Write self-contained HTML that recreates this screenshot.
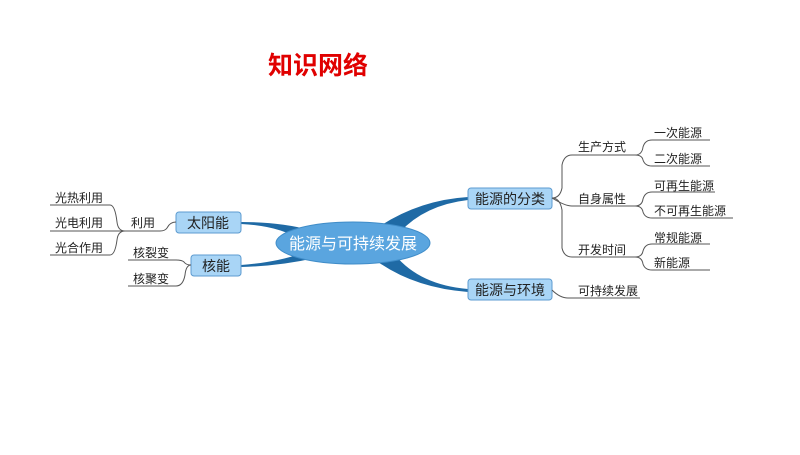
<!DOCTYPE html>
<html><head><meta charset="utf-8"><style>
body{margin:0;background:#fff;}
svg text{font-family:"Liberation Sans","Noto Sans CJK SC",sans-serif;}
</style></head><body>
<svg width="800" height="450" viewBox="0 0 800 450" xmlns="http://www.w3.org/2000/svg">
<rect width="800" height="450" fill="#fff"/>
<text x="318" y="74" font-size="25" font-weight="bold" fill="#e00000" text-anchor="middle">知识网络</text>

<!-- tapered branches -->
<g fill="#1f6aa5">
<path d="M380 226 Q420 200 468 197 L468 200 Q425 205 400 232 Z"/>
<path d="M395 255 Q420 285 468 289 L468 292 Q415 288 378 262 Z"/>
<path d="M310 230 Q280 222 241 222 L241 224 Q280 226 300 240 Z"/>
<path d="M305 252 Q280 262 241 265 L241 267 Q280 266 315 258 Z"/>
</g>

<ellipse cx="353" cy="243" rx="77" ry="21" fill="#5aa5df" stroke="#3f8cc8" stroke-width="1"/>
<text x="353" y="249" font-size="16" fill="#fff" text-anchor="middle">能源与可持续发展</text>

<g fill="#a9d5f6" stroke="#5d9bd0" stroke-width="1">
<rect x="468" y="188" width="84" height="21" rx="3"/>
<rect x="468" y="279" width="84" height="21" rx="3"/>
<rect x="176" y="212" width="65" height="21" rx="3"/>
<rect x="191" y="255" width="50" height="21" rx="3"/>
</g>
<g font-size="14" fill="#222" text-anchor="middle">
<text x="510" y="204">能源的分类</text>
<text x="510" y="295">能源与环境</text>
<text x="208" y="228">太阳能</text>
<text x="216" y="271">核能</text>
</g>

<g fill="none" stroke="#555" stroke-width="1">
<!-- right level2 -->
<path d="M552 198 Q560 198 562 188 L562 165 Q564 155 572 155 L635 155"/>
<path d="M552 198 Q565 206 572 206 L635 206"/>
<path d="M552 198 Q560 198 562 210 L562 248 Q564 257 572 257 L635 257"/>
<path d="M552 290 Q560 298 568 298 L640 298"/>
<!-- level3 -->
<path d="M635 155 Q642 155 643 147 Q645 140 652 140 L710 140"/>
<path d="M635 155 Q642 155 643 160 Q645 166 652 166 L710 166"/>
<path d="M635 206 Q642 206 643 199 Q645 192 652 192 L715 192"/>
<path d="M635 206 Q642 206 643 212 Q645 218 652 218 L733 218"/>
<path d="M635 257 Q642 257 643 251 Q645 244 652 244 L710 244"/>
<path d="M635 257 Q642 257 643 264 Q645 270 652 270 L710 270"/>
<!-- left -->
<path d="M176 222 Q170 222 167 228 Q165 231 160 231 L125 231"/>
<path d="M125 231 Q118 231 117 222 Q115 205 110 205 L50 205"/>
<path d="M125 231 L50 231"/>
<path d="M125 231 Q118 231 117 240 Q115 255 110 255 L50 255"/>
<path d="M191 265 Q186 265 184 262 Q182 260 176 260 L128 260"/>
<path d="M191 265 Q186 265 185 275 Q183 286 176 286 L128 286"/>
</g>

<g font-size="12" fill="#222">
<text x="578" y="151">生产方式</text>
<text x="578" y="203">自身属性</text>
<text x="578" y="254">开发时间</text>
<text x="578" y="295">可持续发展</text>
<text x="654" y="137">一次能源</text>
<text x="654" y="163">二次能源</text>
<text x="654" y="190">可再生能源</text>
<text x="654" y="215">不可再生能源</text>
<text x="654" y="242">常规能源</text>
<text x="654" y="267">新能源</text>
<text x="131" y="227">利用</text>
<text x="55" y="202">光热利用</text>
<text x="55" y="227">光电利用</text>
<text x="55" y="252">光合作用</text>
<text x="133" y="257">核裂变</text>
<text x="133" y="283">核聚变</text>
</g>
</svg>
</body></html>
